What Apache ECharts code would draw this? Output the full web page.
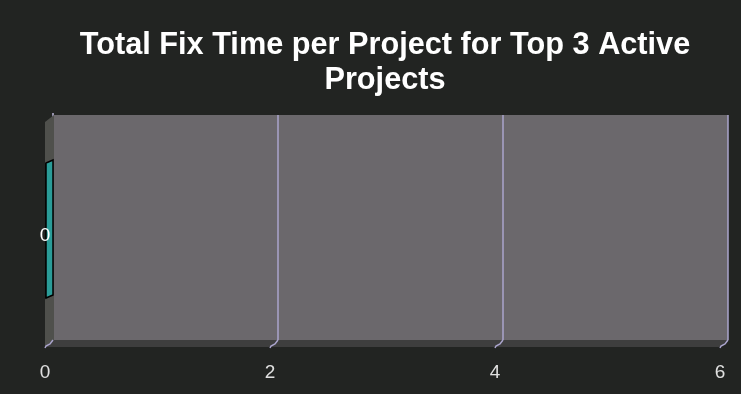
<!DOCTYPE html>
<html>
<head>
<meta charset="utf-8">
<script src="https://cdn.jsdelivr.net/npm/echarts@6/dist/echarts.min.js"></script>
<style>
html,body{margin:0;padding:0;background:#222422;}
#chart{width:741px;height:394px;}
</style>
</head>
<body>
<div id="chart"></div>
<script>
const titleText = 'Total Fix Time per Project for Top 3 Active\nProjects';
const categories = ['0'];
const fixTime = [0];
const xMin = 0, xMax = 6, xInterval = 2;
const xTickValues = [0, 2, 4, 6];

const chart = echarts.init(document.getElementById('chart'));
const DX = -8, DY = 7;        // frame depth offset
const BDX = -7, BDY = 3;      // bar depth offset
const gridColor = '#aaa4cc';

const option = {
  backgroundColor: '#222422',
  animation: false,
  title: {
    text: titleText,
    left: 380,
    textAlign: 'center',
    top: 23,
    textStyle: {color: '#ffffff', fontFamily: 'Liberation Sans', fontWeight: 'bold', fontSize: 30.7, lineHeight: 35}
  },
  grid: {left: 53, right: 13, top: 115, bottom: 54, show: true, backgroundColor: '#6b686c', borderWidth: 0},
  xAxis: {
    type: 'value', min: xMin, max: xMax, interval: xInterval,
    axisLine: {show: false}, axisTick: {show: false},
    splitLine: {show: true, lineStyle: {color: gridColor, width: 1.5}},
    axisLabel: {color: '#e0e0e0', fontFamily: 'Liberation Sans', fontSize: 19, margin: 23, padding: [0, 16, 0, 0]}
  },
  yAxis: {
    type: 'category', data: categories,
    axisLine: {show: false}, axisTick: {show: false}, axisLabel: {show: false}, splitLine: {show: false}
  },
  series: [
    {
      type: 'custom', name: 'frame', z: 3, silent: true,
      data: [[xMin]],
      renderItem: function (params, api) {
        const cs = params.coordSys;
        const x0 = cs.x, y0 = cs.y, x1 = cs.x + cs.width, y1 = cs.y + cs.height;
        const children = [];
        children.push({type: 'polygon', shape: {points: [[x0 + 1, y0], [x0 + DX, y0 + DY], [x0 + DX, y1 + DY], [x0 + 1, y1]]}, style: {fill: '#4f504c'}});
        children.push({type: 'polygon', shape: {points: [[x0, y1], [x1, y1], [x1 + DX, y1 + DY], [x0 + DX, y1 + DY]]}, style: {fill: '#3e3e3e'}});
        xTickValues.forEach(function (t) {
          const p = api.coord([t, 0]);
          const xb = p[0];
          children.push({type: 'polyline', shape: {points: [[xb, y1], [xb - 3, y1 + 4], [xb + DX + 1, y1 + DY - 1], [xb + DX, y1 + DY + 1]]}, style: {stroke: gridColor, lineWidth: 1.5, fill: null}});
        });
        children.push({type: 'circle', shape: {cx: x0, cy: y0 - 1, r: 1}, style: {fill: '#bdb7d8'}});
        return {type: 'group', children: children};
      }
    },
    {
      type: 'custom', name: 'Total Fix Time', z: 5,
      data: fixTime.map(function (v, i) { return [v, i]; }),
      encode: {x: 0, y: 1},
      renderItem: function (params, api) {
        const v = api.value(0), c = api.value(1);
        const s = api.coord([0, c]);
        const e = api.coord([v, c]);
        const h = api.size([0, 1])[1] * 0.6;
        const top = e[1] - h / 2, bot = e[1] + h / 2;
        return {type: 'group', children: [
          {type: 'polygon', shape: {points: [[s[0] + BDX, top + BDY], [e[0] + BDX, top + BDY], [e[0] + BDX, bot + BDY], [s[0] + BDX, bot + BDY]]}, style: {fill: '#2a9c98', stroke: '#000', lineWidth: 1.5}},
          {type: 'polygon', shape: {points: [[e[0], top], [e[0] + BDX, top + BDY], [e[0] + BDX, bot + BDY], [e[0], bot]]}, style: {fill: '#2a9c98', stroke: '#000', lineWidth: 1.5}},
          {type: 'text', style: {text: String(v), x: e[0] - 8, y: (top + bot) / 2 + BDY + 5, align: 'center', verticalAlign: 'middle', fill: '#ffffff', font: '19px "Liberation Sans"'}}
        ]};
      }
    }
  ]
};
chart.setOption(option);
</script>
</body>
</html>
